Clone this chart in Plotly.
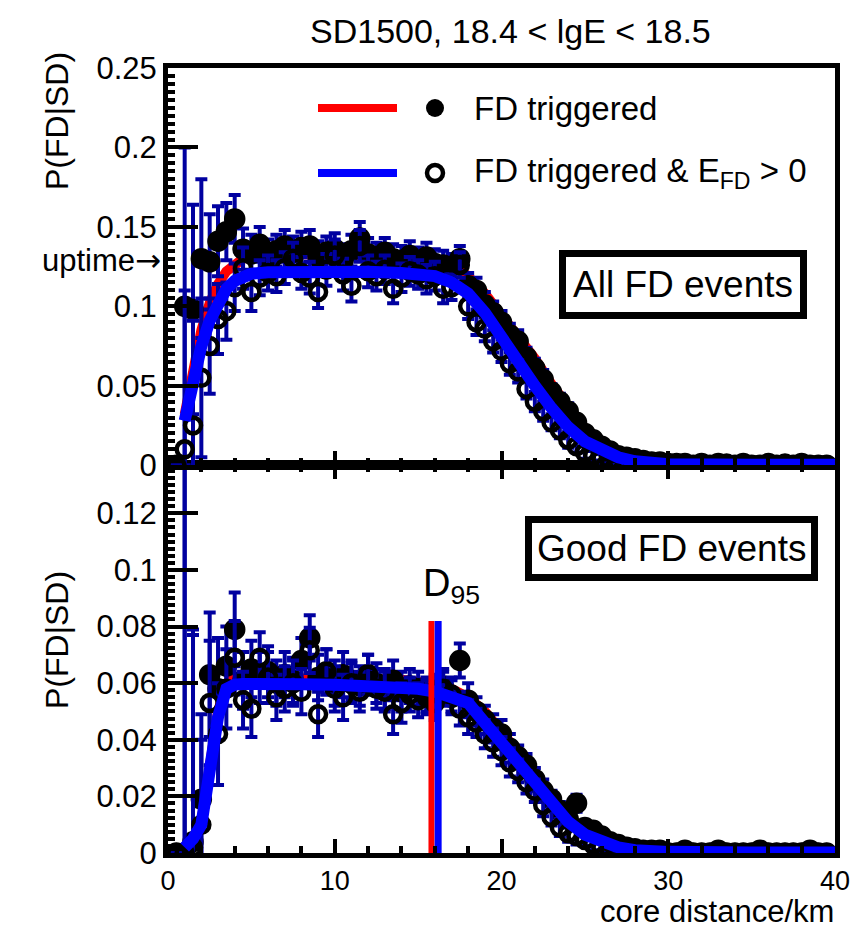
import numpy as np
import plotly.graph_objects as go

# ---------------- data ----------------
# bin centres (km)
dist_km = np.arange(0.5, 40.0, 0.5)

# top panel: All FD events
top_trig = [0.000, 0.100, 0.098, 0.130, 0.128, 0.141, 0.147, 0.155, 0.136, 0.133,
            0.139, 0.131, 0.135, 0.138, 0.134, 0.137, 0.138, 0.131, 0.134, 0.136,
            0.129, 0.135, 0.143, 0.133, 0.131, 0.134, 0.130, 0.129, 0.132, 0.128,
            0.131, 0.127, 0.126, 0.125, 0.130, 0.113, 0.110, 0.101, 0.096, 0.090,
            0.082, 0.078, 0.068, 0.061, 0.054, 0.046, 0.040, 0.034, 0.027, 0.020,
            0.016, 0.012, 0.009, 0.006, 0.005, 0.004, 0.003, 0.002, 0.002, 0.001,
            0.001, 0.001, 0.000, 0.001, 0.000, 0.001, 0.000, 0.000, 0.001, 0.000,
            0.000, 0.001, 0.000, 0.000, 0.000, 0.001, 0.000, 0.000, 0.000]
top_energy = [0.000, 0.010, 0.025, 0.055, 0.075, 0.092, 0.097, 0.112, 0.124, 0.109,
              0.118, 0.121, 0.119, 0.124, 0.130, 0.121, 0.118, 0.109, 0.123, 0.132,
              0.120, 0.113, 0.138, 0.122, 0.119, 0.123, 0.111, 0.118, 0.122, 0.120,
              0.117, 0.119, 0.111, 0.112, 0.126, 0.100, 0.090, 0.086, 0.078, 0.072,
              0.064, 0.059, 0.048, 0.040, 0.034, 0.027, 0.022, 0.016, 0.012, 0.008,
              0.006, 0.004, 0.003, 0.002, 0.002, 0.001, 0.001, 0.001, 0.000, 0.000,
              0.000, 0.001, 0.000, 0.000, 0.000, 0.000, 0.001, 0.000, 0.000, 0.000,
              0.000, 0.000, 0.000, 0.001, 0.000, 0.000, 0.000, 0.000, 0.000]
top_err = [0.000, 0.100, 0.066, 0.050, 0.030, 0.022, 0.018, 0.015, 0.013, 0.012,
           0.011, 0.011, 0.010, 0.010, 0.010, 0.010, 0.010, 0.010, 0.010, 0.010,
           0.010, 0.010, 0.010, 0.010, 0.009, 0.009, 0.009, 0.009, 0.009, 0.009,
           0.009, 0.009, 0.009, 0.008, 0.008, 0.008, 0.008, 0.008, 0.007, 0.007,
           0.007, 0.007, 0.006, 0.006, 0.006, 0.005, 0.005, 0.005, 0.004, 0.004,
           0.003, 0.003, 0.003, 0.002, 0.002, 0.002, 0.002, 0.001, 0.001, 0.001,
           0.001, 0.001, 0.001, 0.001, 0.001, 0.001, 0.001, 0.001, 0.001, 0.001,
           0.001, 0.001, 0.001, 0.001, 0.001, 0.001, 0.001, 0.001, 0.001]

# bottom panel: Good FD events
bot_trig = [0.000, 0.000, 0.004, 0.019, 0.063, 0.058, 0.066, 0.079, 0.061, 0.065,
            0.062, 0.064, 0.060, 0.063, 0.061, 0.068, 0.076, 0.062, 0.064, 0.060,
            0.063, 0.061, 0.059, 0.063, 0.060, 0.058, 0.061, 0.057, 0.059, 0.058,
            0.056, 0.057, 0.059, 0.055, 0.068, 0.054, 0.050, 0.047, 0.044, 0.042,
            0.037, 0.034, 0.031, 0.026, 0.022, 0.019, 0.015, 0.012, 0.0176, 0.009,
            0.008, 0.006, 0.004, 0.003, 0.002, 0.0015, 0.001, 0.001, 0.001, 0.000,
            0.000, 0.001, 0.000, 0.000, 0.000, 0.001, 0.000, 0.000, 0.000, 0.000,
            0.001, 0.000, 0.000, 0.000, 0.000, 0.000, 0.001, 0.000, 0.000]
bot_energy = [0.000, 0.000, 0.002, 0.010, 0.053, 0.042, 0.058, 0.069, 0.054, 0.051,
              0.069, 0.062, 0.055, 0.058, 0.060, 0.057, 0.0716, 0.049, 0.064, 0.058,
              0.055, 0.060, 0.057, 0.063, 0.058, 0.057, 0.049, 0.053, 0.056, 0.054,
              0.055, 0.053, 0.058, 0.056, 0.051, 0.048, 0.046, 0.042, 0.039, 0.036,
              0.032, 0.029, 0.025, 0.022, 0.017, 0.0127, 0.009, 0.007, 0.006, 0.0046,
              0.003, 0.002, 0.001, 0.000, 0.000, 0.000, 0.000, 0.000, 0.000, 0.000,
              0.000, 0.000, 0.000, 0.000, 0.000, 0.000, 0.000, 0.000, 0.000, 0.000,
              0.000, 0.000, 0.000, 0.000, 0.000, 0.000, 0.000, 0.000, 0.000]
bot_err = [0.000, 0.200, 0.075, 0.030, 0.022, 0.018, 0.014, 0.013, 0.010, 0.010,
           0.009, 0.009, 0.008, 0.008, 0.008, 0.008, 0.008, 0.008, 0.008, 0.008,
           0.008, 0.007, 0.007, 0.007, 0.007, 0.007, 0.007, 0.007, 0.006, 0.006,
           0.006, 0.006, 0.006, 0.006, 0.006, 0.006, 0.005, 0.005, 0.005, 0.005,
           0.005, 0.004, 0.004, 0.004, 0.004, 0.003, 0.003, 0.003, 0.003, 0.002,
           0.002, 0.002, 0.002, 0.001, 0.001, 0.001, 0.001, 0.001, 0.001, 0.001,
           0.001, 0.001, 0.001, 0.001, 0.001, 0.001, 0.001, 0.001, 0.001, 0.001,
           0.001, 0.001, 0.001, 0.001, 0.001, 0.001, 0.001, 0.001, 0.001]

# fitted curves
fit_km = [1.0, 1.5, 2.0, 2.5, 3.0, 3.5, 4.0, 4.5, 5.0, 6.0, 8.0, 10.0, 12.0, 14.0, 15.0,
          16.0, 17.0, 18.0, 19.0, 20.0, 21.0, 22.0, 23.0, 24.0, 25.0, 26.0, 27.0, 28.0,
          29.0, 30.0, 35.0, 40.0]
top_fit_trig = [0.032, 0.062, 0.085, 0.102, 0.114, 0.122, 0.127, 0.130, 0.131, 0.1325,
                0.133, 0.133, 0.1325, 0.132, 0.131, 0.130, 0.127, 0.119, 0.108, 0.095,
                0.082, 0.067, 0.051, 0.036, 0.023, 0.014, 0.008, 0.004, 0.002, 0.001,
                0.0003, 0.0003]
top_fit_energy = [0.028, 0.055, 0.075, 0.091, 0.103, 0.111, 0.116, 0.119, 0.1205, 0.1215,
                  0.122, 0.122, 0.1218, 0.121, 0.1205, 0.119, 0.115, 0.108, 0.096, 0.080,
                  0.064, 0.050, 0.036, 0.024, 0.015, 0.009, 0.005, 0.0025, 0.0012, 0.0006,
                  0.0003, 0.0003]
bot_fit_trig = [0.002, 0.005, 0.011, 0.029, 0.050, 0.060, 0.0615, 0.062, 0.062, 0.062,
                0.062, 0.062, 0.0618, 0.0612, 0.0605, 0.0595, 0.058, 0.055, 0.050, 0.043,
                0.035, 0.027, 0.020, 0.013, 0.008, 0.0045, 0.0025, 0.0013, 0.0008, 0.0005,
                0.0002, 0.0002]
bot_fit_energy = [0.002, 0.005, 0.010, 0.027, 0.048, 0.058, 0.0595, 0.0597, 0.0598, 0.0598,
                  0.0596, 0.0594, 0.059, 0.0585, 0.058, 0.057, 0.0555, 0.053, 0.046, 0.039,
                  0.031, 0.024, 0.017, 0.011, 0.0065, 0.0037, 0.002, 0.001, 0.0006, 0.0004,
                  0.0002, 0.0002]

d95_trig = 15.8
d95_energy = 16.2
d95_height = 0.082

# ---------------- styling ----------------
RED = "#ff0000"
BLUE = "#0000ff"
NAVY = "#0000a0"
FONT = "Liberation Sans, Arial, Helvetica, sans-serif"

fig = go.Figure()


def add_red(xa, ya, trig):
    fig.add_trace(go.Scatter(x=fit_km, y=trig, mode="lines", xaxis=xa, yaxis=ya,
                             line=dict(color=RED, width=10), showlegend=False))


def add_points(xa, ya, filled, open_, err):
    for vals, sym in ((filled, "circle"), (open_, "circle-open")):
        fig.add_trace(go.Scatter(
            x=dist_km, y=vals, mode="markers", xaxis=xa, yaxis=ya,
            marker=dict(symbol=sym, size=17 if sym == "circle" else 16, color="black",
                        line=dict(width=4.5, color="black")),
            error_y=dict(type="data", array=err, color=NAVY, thickness=4, width=6),
            showlegend=False))


def add_blue(xa, ya, energy):
    fig.add_trace(go.Scatter(x=fit_km, y=energy, mode="lines", xaxis=xa, yaxis=ya,
                             line=dict(color=BLUE, width=12), showlegend=False))


# top panel uses x2/y2, bottom panel x/y
add_red("x2", "y2", top_fit_trig)
add_points("x2", "y2", top_trig, top_energy, top_err)
add_blue("x2", "y2", top_fit_energy)
add_red("x", "y", bot_fit_trig)
add_points("x", "y", bot_trig, bot_energy, bot_err)
add_blue("x", "y", bot_fit_energy)

# D95 markers
fig.add_trace(go.Scatter(x=[d95_trig, d95_trig], y=[0, d95_height], mode="lines",
                         line=dict(color=RED, width=6), showlegend=False))
fig.add_trace(go.Scatter(x=[d95_energy, d95_energy], y=[0, d95_height], mode="lines",
                         line=dict(color=BLUE, width=7), showlegend=False))

tickfont = dict(family=FONT, size=31, color="black")
common_x = dict(range=[0, 40], dtick=10, ticks="inside", ticklen=14, tickwidth=4,
                tickcolor="black", showline=True, linewidth=5, linecolor="black",
                showgrid=False, zeroline=False, tickfont=dict(family=FONT, size=27, color="black"),
                minor=dict(dtick=2, ticks="inside", ticklen=7, tickwidth=4, tickcolor="black"))
common_y = dict(ticks="inside", ticklen=30, tickwidth=4, tickcolor="black",
                showline=True, linewidth=5, linecolor="black", mirror=True,
                showgrid=False, zeroline=False, tickfont=tickfont)

split = 0.494
fig.update_layout(
    width=865, height=930,
    margin=dict(l=168, r=30, t=68, b=77),
    paper_bgcolor="white", plot_bgcolor="white",
    xaxis=dict(domain=[0, 1], anchor="y", mirror="ticks", **common_x),
    yaxis=dict(domain=[0, split], range=[0, 0.137], dtick=0.02, tickformat="~g",
               minor=dict(dtick=0.0025, ticks="inside", ticklen=7, tickwidth=4,
                          tickcolor="black"), **common_y),
    xaxis2=dict(domain=[0, 1], anchor="y2", matches="x", showticklabels=False,
                mirror=True, **common_x),
    yaxis2=dict(domain=[split, 1], range=[0, 0.25], dtick=0.05, tickformat="~g",
                minor=dict(dtick=0.005, ticks="inside", ticklen=7, tickwidth=4,
                           tickcolor="black"), **common_y),
)


def px(xp, yp):
    return (xp - 168) / 667.0, (853 - yp) / 785.0


def note(text, xp, yp, size, **kw):
    ax_, ay_ = px(xp, yp)
    d = dict(text=text, x=ax_, y=ay_, xref="paper", yref="paper", showarrow=False,
             xanchor="center", yanchor="middle",
             font=dict(family=FONT, size=size, color="black"))
    d.update(kw)
    return d


ann = [
    note("SD1500, 18.4 &lt; lgE &lt; 18.5", 511, 31, 34),
    note("P(FD|SD)", 57, 121, 32, textangle=-90),
    note("P(FD|SD)", 57, 640, 32, textangle=-90),
    note("uptime<span style='font-family:DejaVu Sans'>→</span>", 163, 260, 31,
         xanchor="right"),
    note("core distance/km", 836, 911, 31, xanchor="right"),
    note("D<sub>95</sub>", 451, 586, 38),
    note("All FD events", 683, 284, 37, bgcolor="white", bordercolor="black",
         borderwidth=7, borderpad=7),
    note("Good FD events", 671, 548, 37, bgcolor="white", bordercolor="black",
         borderwidth=7, borderpad=5),
]

# legend
shapes = []
for yl, col, txt, filled in ((108, RED, "FD triggered", True),
                             (173, BLUE, "FD triggered &amp; E<sub>FD</sub> &gt; 0", False)):
    x0, yy = px(318, yl)
    x1, _ = px(397, yl)
    shapes.append(dict(type="line", xref="paper", yref="paper", x0=x0, x1=x1, y0=yy, y1=yy,
                       line=dict(color=col, width=8)))
    cxp, _ = px(435, yl)
    r = 9 if filled else 8
    shapes.append(dict(type="circle", xref="paper", yref="paper", xsizemode="pixel",
                       ysizemode="pixel", xanchor=cxp, yanchor=yy,
                       x0=-r, x1=r, y0=-r, y1=r,
                       fillcolor="black" if filled else "rgba(0,0,0,0)",
                       line=dict(color="black", width=0 if filled else 4.5)))
    ann.append(note(txt, 472, yl, 33, xanchor="left"))

fig.update_layout(annotations=ann, shapes=shapes)
fig.write_html("out.html")
